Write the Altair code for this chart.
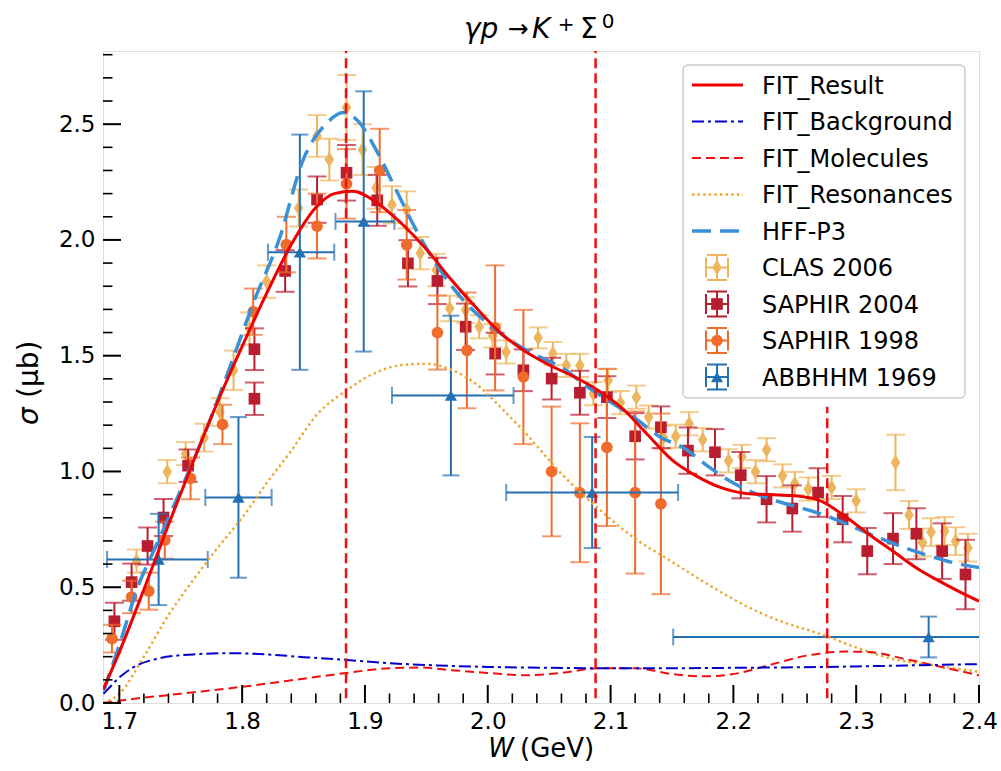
import altair as alt
import pandas as pd

FONT = "DejaVu Sans"

# ---------------- data ----------------
CLAS_W = [1.714, 1.739, 1.754, 1.769, 1.782, 1.793, 1.806, 1.820, 1.846, 1.861, 1.871, 1.885,
          1.898, 1.909, 1.922, 1.934, 1.945, 1.958, 1.969, 1.982, 1.993, 2.004, 2.015, 2.041,
          2.053, 2.064, 2.075, 2.086, 2.098, 2.108, 2.121, 2.131, 2.143, 2.153, 2.164, 2.175,
          2.196, 2.207, 2.218, 2.227, 2.240, 2.250, 2.261, 2.280, 2.300, 2.332, 2.343, 2.354,
          2.361, 2.372, 2.381, 2.391]
CLAS_S = [0.613, 0.999, 1.077, 1.146, 1.256, 1.437, 1.617, 1.820, 2.138, 2.449, 2.347, 2.572,
          2.390, 2.225, 2.152, 2.130, 1.943, 1.870, 1.704, 1.697, 1.625, 1.586, 1.516, 1.577,
          1.509, 1.458, 1.458, 1.336, 1.393, 1.297, 1.321, 1.235, 1.148, 1.152, 1.206, 1.137,
          1.046, 1.065, 0.999, 1.094, 0.981, 0.948, 0.924, 0.931, 0.873, 1.039, 0.812, 0.693,
          0.738, 0.743, 0.699, 0.671]
CLAS_E = [0.05, 0.05, 0.05, 0.06, 0.06, 0.085, 0.07, 0.07, 0.08, 0.09, 0.09, 0.14,
          0.11, 0.09, 0.08, 0.08, 0.07, 0.07, 0.055, 0.055, 0.05, 0.05, 0.05, 0.045,
          0.05, 0.05, 0.05, 0.05, 0.05, 0.05, 0.05, 0.05, 0.05, 0.05, 0.05, 0.05,
          0.05, 0.05, 0.05, 0.05, 0.05, 0.05, 0.05, 0.05, 0.05, 0.12, 0.06, 0.06,
          0.06, 0.06, 0.06, 0.06]

S04_W = [1.696, 1.710, 1.723, 1.736, 1.756, 1.810, 1.810, 1.835, 1.861, 1.885, 1.910, 1.935,
         1.959, 1.982, 2.006, 2.029, 2.052, 2.075, 2.097, 2.120, 2.141, 2.163, 2.185, 2.206,
         2.227, 2.248, 2.269, 2.289, 2.309, 2.330, 2.349, 2.370, 2.389]
S04_S = [0.353, 0.522, 0.678, 0.801, 1.025, 1.528, 1.314, 1.866, 2.174, 2.290, 2.171, 1.899,
         1.823, 1.625, 1.509, 1.437, 1.401, 1.340, 1.321, 1.152, 1.191, 1.090, 1.083, 0.984,
         0.880, 0.840, 0.909, 0.794, 0.656, 0.710, 0.731, 0.656, 0.555]
S04_E = [0.08, 0.08, 0.08, 0.08, 0.07, 0.09, 0.07, 0.09, 0.10, 0.12, 0.11, 0.10,
         0.10, 0.10, 0.09, 0.09, 0.09, 0.095, 0.09, 0.10, 0.09, 0.10, 0.10, 0.10,
         0.10, 0.10, 0.105, 0.10, 0.10, 0.11, 0.11, 0.12, 0.15]

S98_W = [1.694, 1.710, 1.724, 1.737, 1.758, 1.784, 1.809, 1.836, 1.861, 1.885, 1.912, 1.934,
         1.959, 1.983, 2.006, 2.029, 2.052, 2.075, 2.097, 2.120, 2.141]
S98_S = [0.278, 0.458, 0.483, 0.703, 0.970, 1.203, 1.690, 1.980, 2.060, 2.242, 2.300, 1.979,
         1.600, 1.523, 1.620, 1.408, 1.000, 0.908, 1.104, 0.909, 0.860]
S98_E = [0.06, 0.07, 0.08, 0.08, 0.09, 0.085, 0.10, 0.12, 0.14, 0.15, 0.18, 0.15,
         0.16, 0.25, 0.27, 0.29, 0.28, 0.30, 0.34, 0.35, 0.39]

AB_W = [1.732, 1.797, 1.847, 1.899, 1.970, 2.085, 2.359]
AB_S = [0.620, 0.888, 1.947, 2.080, 1.328, 0.909, 0.285]
AB_E = [0.197, 0.347, 0.508, 0.562, 0.345, 0.240, 0.088]
AB_WLO = [1.690, 1.770, 1.821, 1.876, 1.922, 2.015, 2.151]
AB_WHI = [1.772, 1.824, 1.875, 1.924, 2.021, 2.155, 2.567]

FIT_W = [1.687, 1.70, 1.72, 1.74, 1.76, 1.78, 1.80, 1.82, 1.84, 1.86, 1.875, 1.89, 1.91, 1.93,
         1.95, 1.97, 1.99, 2.01, 2.03, 2.05, 2.07, 2.09, 2.11, 2.13, 2.15, 2.17, 2.19, 2.21,
         2.23, 2.25, 2.27, 2.29, 2.31, 2.33, 2.35, 2.37, 2.39, 2.40]
FIT_S = [0.06, 0.22, 0.49, 0.77, 1.04, 1.30, 1.54, 1.77, 1.98, 2.14, 2.20, 2.21, 2.16, 2.07,
         1.96, 1.83, 1.71, 1.60, 1.52, 1.46, 1.41, 1.35, 1.27, 1.16, 1.05, 0.98, 0.93, 0.905,
         0.90, 0.895, 0.875, 0.81, 0.73, 0.655, 0.58, 0.52, 0.465, 0.44]

HFF_W = [1.687, 1.70, 1.715, 1.73, 1.75, 1.77, 1.79, 1.81, 1.83, 1.85, 1.87, 1.882, 1.895,
         1.91, 1.925, 1.94, 1.96, 1.98, 2.00, 2.02, 2.04, 2.06, 2.08, 2.10, 2.12, 2.14, 2.16,
         2.18, 2.20, 2.22, 2.24, 2.26, 2.28, 2.30, 2.32, 2.34, 2.36, 2.38, 2.40]
HFF_S = [0.05, 0.25, 0.50, 0.68, 0.92, 1.17, 1.45, 1.74, 2.00, 2.35, 2.51, 2.55, 2.51,
         2.38, 2.22, 2.06, 1.88, 1.74, 1.64, 1.56, 1.50, 1.45, 1.37, 1.30, 1.23, 1.15, 1.10,
         1.02, 0.95, 0.90, 0.865, 0.835, 0.80, 0.755, 0.71, 0.67, 0.635, 0.605, 0.585]

BG_W = [1.687, 1.69, 1.70, 1.71, 1.73, 1.76, 1.79, 1.82, 1.85, 1.885, 1.92, 1.96, 2.00,
        2.05, 2.10, 2.15, 2.20, 2.25, 2.30, 2.35, 2.40]
BG_S = [0.04, 0.056, 0.11, 0.15, 0.19, 0.21, 0.215, 0.21, 0.198, 0.186, 0.172, 0.162, 0.156,
        0.152, 0.15, 0.15, 0.152, 0.154, 0.158, 0.163, 0.168]

MOL_W = [1.687, 1.70, 1.75, 1.80, 1.85, 1.885, 1.92, 1.945, 1.97, 2.00, 2.03, 2.06, 2.09,
         2.12, 2.15, 2.175, 2.20, 2.23, 2.26, 2.29, 2.31, 2.34, 2.37, 2.40]
MOL_S = [0.0, 0.01, 0.04, 0.07, 0.105, 0.13, 0.15, 0.153, 0.142, 0.13, 0.12, 0.13, 0.15,
         0.15, 0.125, 0.115, 0.125, 0.165, 0.205, 0.222, 0.22, 0.19, 0.155, 0.12]

RES_W = [1.687, 1.70, 1.72, 1.74, 1.76, 1.78, 1.80, 1.82, 1.84, 1.86, 1.885, 1.91, 1.93,
         1.95, 1.97, 1.99, 2.01, 2.03, 2.06, 2.09, 2.12, 2.15, 2.18, 2.21, 2.24, 2.27, 2.30,
         2.33, 2.36, 2.40]
RES_S = [0.0, 0.04, 0.2, 0.38, 0.53, 0.67, 0.80, 0.95, 1.09, 1.24, 1.35, 1.43, 1.46,
         1.465, 1.44, 1.38, 1.28, 1.17, 0.99, 0.84, 0.71, 0.61, 0.51, 0.42, 0.35, 0.30, 0.24,
         0.19, 0.165, 0.135]

VLINE_W = [1.8846, 2.0878, 2.2764]
VLINE_LO = [0.02, 0.02, 0.02]
VLINE_HI = [2.816, 2.816, 1.28]

X_TICKS = [1.7, 1.8, 1.9, 2.0, 2.1, 2.2, 2.3, 2.4]
Y_TICKS = [0.0, 0.5, 1.0, 1.5, 2.0, 2.5]
X_MINOR = [round(1.70 + 0.02 * i, 2) for i in range(36) if i % 5 != 0]
Y_MINOR = [round(0.1 * i, 1) for i in range(29) if i % 5 != 0]

LEGEND_LABELS = ["FIT_Result", "FIT_Background", "FIT_Molecules", "FIT_Resonances",
                 "HFF-P3", "CLAS 2006", "SAPHIR 2004", "SAPHIR 1998", "ABBHHM 1969"]

# ---------------- styling ----------------
W_MIN, W_MAX = 1.6867, 2.4
S_MIN, S_MAX = 0.0, 2.816
PW, PH = 876, 652
LEFT, TOP = 103, 51

C_CLAS = "#EDB65E"
C_S04 = "#B81D30"
C_S98 = "#F06C2C"
C_AB = "#2470B4"
C_HFF = "#3A91D8"
C_FIT = "#EE0000"
C_BG = "#0000CD"
C_MOL = "#EE1010"
C_RES = "#EFA52A"

DIAMOND = "M0,-1L0.62,0L0,1L-0.62,0Z"

xs = alt.Scale(domain=[W_MIN, W_MAX], nice=False, zero=False)
ys = alt.Scale(domain=[S_MIN, S_MAX], nice=False, zero=False)

XAX = alt.Axis(values=X_TICKS, format=".1f", ticks=False, tickSize=0, domain=False, grid=False,
               labelFontSize=23, labelFont=FONT, labelColor="black", labelPadding=7,
               labelFlush=False, labelOverlap=False, title=None)
YAX = alt.Axis(values=Y_TICKS, format=".1f", ticks=False, tickSize=0, domain=False, grid=False,
               labelFontSize=23, labelFont=FONT, labelColor="black", labelPadding=8,
               labelFlush=False, labelOverlap=False, title=None)


def X(f):
    return alt.X(f, type="quantitative", scale=xs, axis=XAX)


def Y(f):
    return alt.Y(f, type="quantitative", scale=ys, axis=YAX)


layers = []


def errdata(w, s, e):
    return pd.DataFrame({"W": w, "sig": s, "lo": [a - b for a, b in zip(s, e)],
                         "hi": [a + b for a, b in zip(s, e)]})


def add_dataset(w, s, e, color, shape, size, cap=19):
    df = errdata(w, s, e)
    base = alt.Chart(df)
    layers.append(base.mark_rule(color=color, strokeWidth=2, clip=True).encode(
        x=X("W"), y=Y("lo"), y2="hi"))
    layers.append(base.mark_tick(color=color, orient="horizontal", size=cap, thickness=2,
                                 clip=True).encode(x=X("W"), y=Y("lo")))
    layers.append(base.mark_tick(color=color, orient="horizontal", size=cap, thickness=2,
                                 clip=True).encode(x=X("W"), y=Y("hi")))
    layers.append(base.mark_point(shape=shape, filled=True, size=size, color=color, opacity=1,
                                  clip=True).encode(x=X("W"), y=Y("sig")))


add_dataset(CLAS_W, CLAS_S, CLAS_E, C_CLAS, DIAMOND, 240)
add_dataset(S04_W, S04_S, S04_E, C_S04, "square", 136)
add_dataset(S98_W, S98_S, S98_E, C_S98, "circle", 136)

# ABBHHM with horizontal bins
ab = pd.DataFrame({"W": AB_W, "sig": AB_S, "lo": [a - b for a, b in zip(AB_S, AB_E)],
                   "hi": [a + b for a, b in zip(AB_S, AB_E)], "wlo": AB_WLO, "whi": AB_WHI})
abc = alt.Chart(ab)
layers.append(abc.mark_rule(color=C_AB, strokeWidth=2, clip=True).encode(
    x=X("wlo"), x2="whi", y=Y("sig")))
layers.append(abc.mark_rule(color=C_AB, strokeWidth=2, clip=True).encode(
    x=X("W"), y=Y("lo"), y2="hi"))
for fld in ["lo", "hi"]:
    layers.append(abc.mark_tick(color=C_AB, orient="horizontal", size=17, thickness=2,
                                clip=True).encode(x=X("W"), y=Y(fld)))
for fld in ["wlo", "whi"]:
    layers.append(abc.mark_tick(color=C_AB, orient="vertical", size=17, thickness=2,
                                clip=True).encode(x=X(fld), y=Y("sig")))
layers.append(abc.mark_point(shape="triangle-up", filled=True, size=150, color=C_AB, opacity=1,
                             clip=True).encode(x=X("W"), y=Y("sig")))


def add_curve(w, s, color, width, dash=None):
    df = pd.DataFrame({"W": w, "sig": s})
    kw = dict(color=color, strokeWidth=width, interpolate="monotone", clip=True)
    if dash:
        kw["strokeDash"] = dash
    layers.append(alt.Chart(df).mark_line(**kw).encode(x=X("W"), y=Y("sig")))


add_curve(RES_W, RES_S, C_RES, 2.4, [2.4, 3.2])
add_curve(MOL_W, MOL_S, C_MOL, 2.0, [9, 5])
add_curve(BG_W, BG_S, C_BG, 2.0, [12, 4, 3, 4])
add_curve(HFF_W, HFF_S, C_HFF, 3.5, [19, 9])
add_curve(FIT_W, FIT_S, C_FIT, 3.0)

# vertical dashed lines
vl = pd.DataFrame({"W": VLINE_W, "lo": VLINE_LO, "hi": VLINE_HI})
layers.append(alt.Chart(vl).mark_rule(color=C_MOL, strokeWidth=2.5, strokeDash=[10, 5]).encode(
    x=X("W"), y=Y("lo"), y2="hi"))

# inward ticks
layers.append(alt.Chart(pd.DataFrame({"W": X_TICKS})).mark_rule(color="black", strokeWidth=2).encode(
    x=X("W"), y=alt.value(PH), y2=alt.value(PH - 18)))
layers.append(alt.Chart(pd.DataFrame({"W": X_MINOR})).mark_rule(color="black", strokeWidth=1.6).encode(
    x=X("W"), y=alt.value(PH), y2=alt.value(PH - 9.5)))
layers.append(alt.Chart(pd.DataFrame({"sig": Y_TICKS})).mark_rule(color="black", strokeWidth=2).encode(
    y=Y("sig"), x=alt.value(0), x2=alt.value(18)))
layers.append(alt.Chart(pd.DataFrame({"sig": Y_MINOR})).mark_rule(color="black", strokeWidth=1.6).encode(
    y=Y("sig"), x=alt.value(0), x2=alt.value(9.5)))

# ---------------- legend (manual) ----------------
one = pd.DataFrame({"k": [0]})


def prule(x1, y1, x2, y2, color, width=2, dash=None):
    kw = dict(color=color, strokeWidth=width)
    if dash:
        kw["strokeDash"] = dash
    return alt.Chart(one).mark_rule(**kw).encode(
        x=alt.value(x1), x2=alt.value(x2), y=alt.value(y1), y2=alt.value(y2))


def ptext(x, y, txt, size, style="normal", align="left", baseline="alphabetic", angle=0):
    kw = dict(font=FONT, fontSize=size, fontStyle=style, align=align, baseline=baseline,
              color="black")
    if angle:
        kw["angle"] = angle
    return alt.Chart(one).mark_text(**kw).encode(
        x=alt.value(x), y=alt.value(y), text=alt.value(txt))


LX0, LX1, LY0, LY1 = 580, 862, 14, 347
layers.append(alt.Chart(one).mark_rect(fill="white", fillOpacity=0.85, stroke="#CCCCCC",
                                       strokeWidth=1.5, cornerRadius=5).encode(
    x=alt.value(LX0), x2=alt.value(LX1), y=alt.value(LY0), y2=alt.value(LY1)))

ROW0, DROW = 34, 36.5
HX0, HX1, HCX, TX = 589, 640, 614, 659
line_styles = [(C_FIT, 3.0, None), (C_BG, 2.0, [12, 4, 3, 4]), (C_MOL, 2.0, [9, 5]),
               (C_RES, 2.4, [2.4, 3.2]), (C_HFF, 3.5, [19, 9])]
for i, (c, wdt, d) in enumerate(line_styles):
    cy = ROW0 + DROW * i
    layers.append(prule(HX0, cy, HX1, cy, c, wdt, d))

glyphs = [(C_CLAS, DIAMOND, 240), (C_S04, "square", 136), (C_S98, "circle", 136),
          (C_AB, "triangle-up", 150)]
for j, (c, shp, sz) in enumerate(glyphs):
    cy = ROW0 + DROW * (5 + j)
    layers.append(prule(HCX - 11, cy, HCX + 11, cy, c))
    layers.append(prule(HCX, cy - 12.5, HCX, cy + 12.5, c))
    layers.append(prule(HCX - 10, cy - 12.5, HCX + 10, cy - 12.5, c))
    layers.append(prule(HCX - 10, cy + 12.5, HCX + 10, cy + 12.5, c))
    layers.append(prule(HCX - 11, cy - 10, HCX - 11, cy + 10, c))
    layers.append(prule(HCX + 11, cy - 10, HCX + 11, cy + 10, c))
    layers.append(alt.Chart(one).mark_point(shape=shp, filled=True, size=sz, color=c, opacity=1).encode(
        x=alt.value(HCX), y=alt.value(cy)))

for i, lab in enumerate(LEGEND_LABELS):
    layers.append(ptext(TX, ROW0 + DROW * i + 8.5, lab, 24))

# ---------------- titles ----------------
layers.append(ptext(361, -13, "γp", 28, "italic"))
layers.append(ptext(415, -14, "→", 25, align="center"))
layers.append(ptext(429, -13, "K", 28, "italic"))
layers.append(ptext(463, -20, "+", 20, align="center"))
layers.append(ptext(477, -13, "Σ", 28))
layers.append(ptext(505, -23, "0", 20, align="center"))

layers.append(ptext(411, 706, "W", 26, "italic", align="right"))
layers.append(ptext(417, 706, "(GeV)", 26))

layers.append(ptext(-65, 374, "σ", 28, "italic", angle=270))
layers.append(ptext(-65, 347, "(μb)", 28, angle=270))

chart = alt.layer(*layers).properties(
    width=PW, height=PH,
    padding={"left": LEFT, "top": TOP, "right": 1001 - LEFT - PW, "bottom": 771 - TOP - PH},
    autosize=alt.AutoSizeParams(type="none"),
).configure_view(stroke="black", strokeWidth=2).configure(background="white")

chart.save("out.html", embed_options={"renderer": "svg", "actions": False})
